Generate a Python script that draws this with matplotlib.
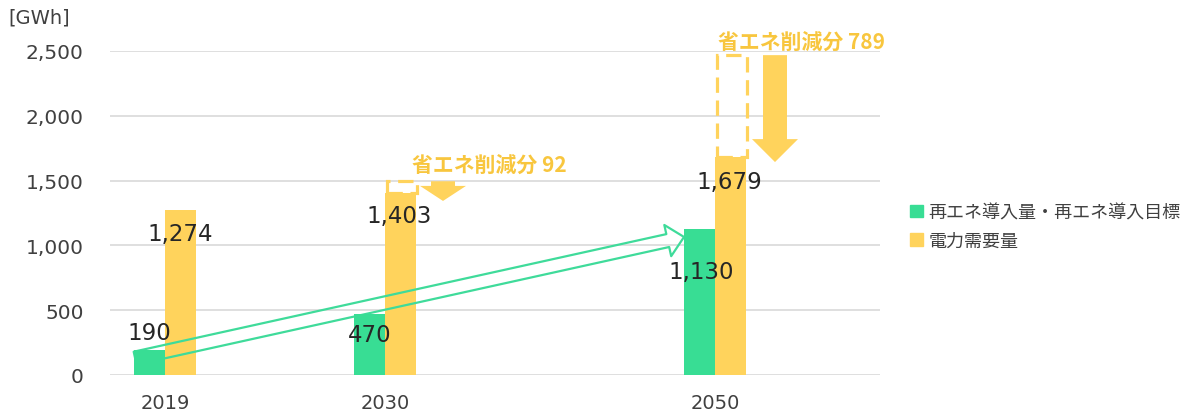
import matplotlib
matplotlib.use("Agg")
import matplotlib.pyplot as plt
from matplotlib.patches import Rectangle, FancyArrow, Patch

plt.rcParams['font.family'] = ['DejaVu Sans', 'Noto Sans CJK JP']

# ---- data ----
years = ['2019', '2030', '2050']
renewables = [190, 470, 1130]          # 再エネ導入量・再エネ導入目標
demand = [1274, 1403, 1679]            # 電力需要量
savings = [None, 92, 789]              # 省エネ削減分
series_names = ['再エネ導入量・再エネ導入目標', '電力需要量']
unit_label = '[GWh]'
saving_label = '省エネ削減分'
yticks = [0, 500, 1000, 1500, 2000, 2500]

# ---- style ----
GREEN = '#38DD94'
YELLOW = '#FFD35C'
GOLD = '#F8C63E'
GRID = '#D9D9D9'
TICK = '#404040'
LABEL = '#262626'

positions = [0, 2, 5]
bw = 0.282

fig = plt.figure(figsize=(11.92, 4.14), dpi=100)
ax = fig.add_axes([0.0923, 0.0918, 0.6460, 0.7826])

ax.bar([p - bw / 2 for p in positions], renewables, width=bw,
       color=GREEN, zorder=4)
ax.bar([p + bw / 2 for p in positions], demand, width=bw,
       color=YELLOW, zorder=2)

ax.set_xlim(-0.5, 6.5)
ax.set_ylim(0, 2500)
ax.set_yticks(yticks)
ax.set_yticklabels([f'{v:,}' for v in yticks])
ax.set_xticks(positions)
ax.set_xticklabels(years)
ax.tick_params(axis='y', length=0, pad=19, labelsize=14.5, labelcolor=TICK)
ax.tick_params(axis='x', length=0, pad=13, labelsize=14, labelcolor=TICK)
for s in ax.spines.values():
    s.set_visible(False)
ax.yaxis.grid(True, color=GRID, lw=1.2, zorder=0)
ax.set_axisbelow(True)

# hollow arrow showing growth of renewables
ax.annotate('', xy=(positions[2] - bw, renewables[2] - 65),
            xytext=(positions[0] - bw + 0.01, renewables[0] - 60),
            arrowprops=dict(arrowstyle='simple,head_length=1.2,head_width=2.3,tail_width=0.95',
                            fc='none', ec='#3FDB9A', lw=1.6,
                            shrinkA=0, shrinkB=0, mutation_scale=10),
            zorder=3)

# value labels (offsets in points from bar top)
green_off = [(0, 13), (0, -15), (1, -31)]
yellow_off = [(0, -17), (-1, -16), (-1, -17)]
for p, v, (dx, dy) in zip(positions, renewables, green_off):
    ax.annotate(f'{v:,}', xy=(p - bw / 2, v), xytext=(dx, dy),
                textcoords='offset points', ha='center', va='center',
                fontsize=16.5, color=LABEL, zorder=6)
for p, v, (dx, dy) in zip(positions, demand, yellow_off):
    ax.annotate(f'{v:,}', xy=(p + bw / 2, v), xytext=(dx, dy),
                textcoords='offset points', ha='center', va='center',
                fontsize=16.5, color=LABEL, zorder=6)

# energy-saving reductions: dashed outline, down arrow and label
arrow_dx = [None, 0.527, 0.545]
overshoot = [None, 60, 36]
head_len = [None, 116, 177]
text_off = [None, (19.5, 12), (2, 10)]
for i, (p, base, sv) in enumerate(zip(positions, demand, savings)):
    if sv is None:
        continue
    top = base + sv
    ax.add_patch(Rectangle((p + 0.02, base), bw - 0.01, sv, fill=False,
                           ec=YELLOW, lw=2.3, linestyle=(0, (4.8, 2.4)),
                           zorder=3, clip_on=False))
    ax.add_patch(FancyArrow(p + arrow_dx[i], top, 0, -(top - (base - overshoot[i])),
                            width=0.218, head_width=0.418, head_length=head_len[i],
                            length_includes_head=True, color=YELLOW, lw=0,
                            zorder=3, clip_on=False))
    ax.annotate(f'{saving_label} {sv}', xy=(p, top), xytext=text_off[i],
                textcoords='offset points', ha='left', va='center',
                fontsize=15, fontweight='bold', color=GOLD,
                family=['Noto Sans CJK JP'], zorder=6, annotation_clip=False)

# unit label
fig.text(8 / 1192, 1 - 18 / 414, unit_label, ha='left', va='center',
         fontsize=14, color=TICK)

# legend
handles = [Patch(color=GREEN), Patch(color=YELLOW)]
fig.legend(handles, series_names, loc='center left',
           bbox_to_anchor=(0.750, 0.45), frameon=False,
           prop={'family': 'Noto Sans CJK JP', 'size': 13},
           handlelength=0.7, handleheight=0.7, handletextpad=0.3,
           labelspacing=0.6, labelcolor=TICK)

fig.savefig('out.png', dpi=100)
